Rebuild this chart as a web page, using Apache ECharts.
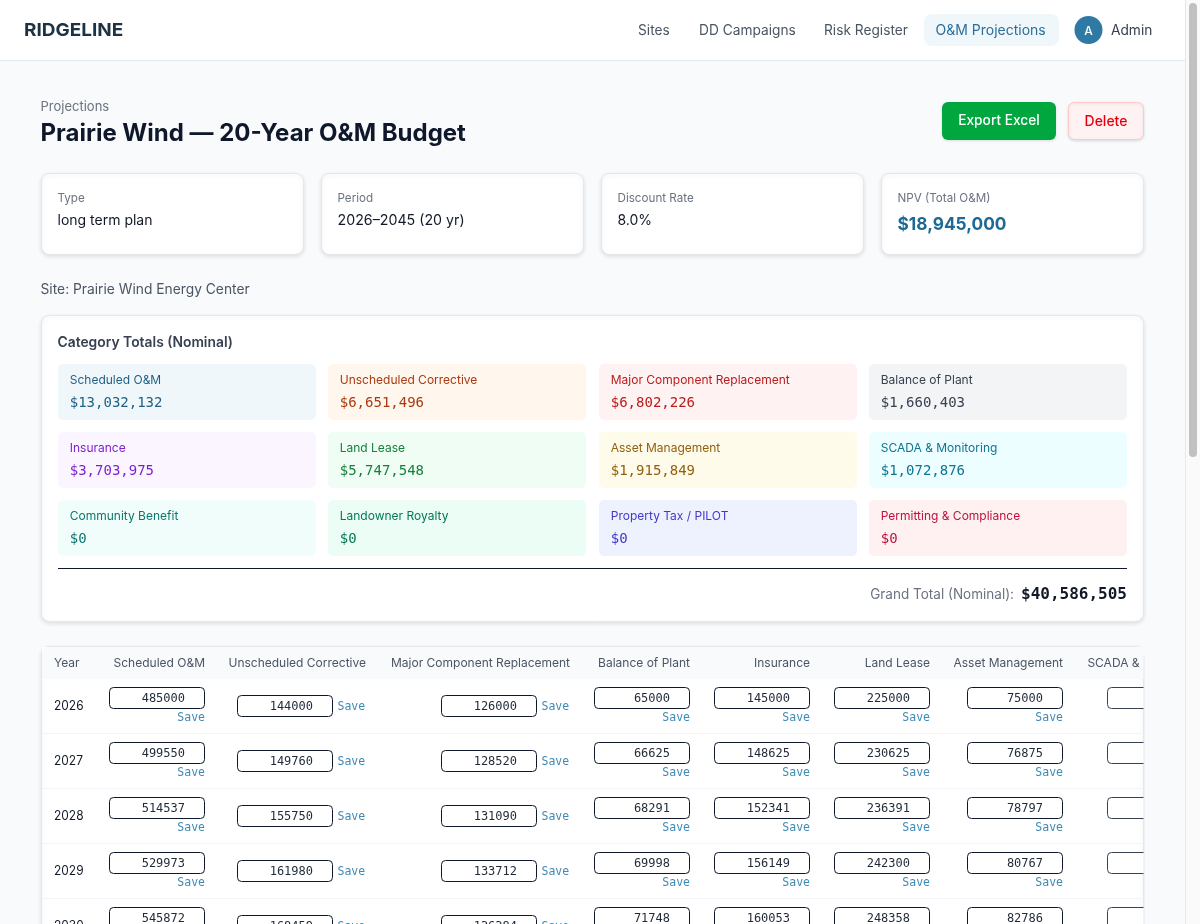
<!DOCTYPE html>
<html>
<head>
<meta charset="utf-8">
<title>Prairie Wind — 20-Year O&amp;M Budget</title>
<style>
  html, body { margin: 0; padding: 0; background: #f8fafc; overflow: hidden; }
  #page { width: 1200px; height: 924px; }
</style>
</head>
<body>
<div id="page"></div>
<script src="https://cdn.jsdelivr.net/npm/echarts@6/dist/echarts.min.js"></script>
<script>
// data
const navItems = ['Sites', 'DD Campaigns', 'Risk Register', 'O&M Projections'];
const summaryLabels = ['Type', 'Period', 'Discount Rate', 'NPV (Total O&M)'];
const summaryValues = ['long term plan', '2026–2045 (20 yr)', '8.0%', '$18,945,000'];
const categoryNames = [
  'Scheduled O&M', 'Unscheduled Corrective', 'Major Component Replacement', 'Balance of Plant',
  'Insurance', 'Land Lease', 'Asset Management', 'SCADA & Monitoring',
  'Community Benefit', 'Landowner Royalty', 'Property Tax / PILOT', 'Permitting & Compliance'
];
const categoryTotals = [
  '$13,032,132', '$6,651,496', '$6,802,226', '$1,660,403',
  '$3,703,975', '$5,747,548', '$1,915,849', '$1,072,876',
  '$0', '$0', '$0', '$0'
];
const grandTotal = '$40,586,505';
const years = [2026, 2027, 2028, 2029, 2030];
const tableHeaders = [
  'Scheduled O&M', 'Unscheduled Corrective', 'Major Component Replacement', 'Balance of Plant',
  'Insurance', 'Land Lease', 'Asset Management', 'SCADA & Monitoring'
];
const scheduledOm = [485000, 499550, 514537, 529973, 545872];
const unscheduled = [144000, 149760, 155750, 161980, 168459];
const majorComponent = [126000, 128520, 131090, 133712, 136384];
const balanceOfPlant = [65000, 66625, 68291, 69998, 71748];
const insurance = [145000, 148625, 152341, 156149, 160053];
const landLease = [225000, 230625, 236391, 242300, 248358];
const assetManagement = [75000, 76875, 78797, 80767, 82786];

// layout and styles
const SANS = 'Inter';
const MONO = '"DejaVu Sans Mono"';
const tileColors = [
  ['#f0f7fb', '#1f5f85'], ['#fff6ed', '#a93a10'], ['#fef2f2', '#b91c1c'], ['#f3f4f6', '#374151'],
  ['#faf5ff', '#7e22ce'], ['#f0fdf4', '#15803d'], ['#fffbeb', '#92600e'], ['#ecfeff', '#0e7490'],
  ['#f0fdfa', '#0f766e'], ['#ecfdf5', '#047857'], ['#eef2ff', '#4338ca'], ['#fff1f2', '#be123c']
];
const tileX = [58, 328, 599, 869];
const tileY = [364, 432, 500];
const cardX = [41, 321, 601, 881];
// left edge of the input, right edge of the header, and whether Save sits under the input
const columns = [
  { values: scheduledOm, left: 109, stacked: true, headRight: 205 },
  { values: unscheduled, left: 237, stacked: false, headRight: 366 },
  { values: majorComponent, left: 441, stacked: false, headRight: 570 },
  { values: balanceOfPlant, left: 594, stacked: true, headRight: 690 },
  { values: insurance, left: 714, stacked: true, headRight: 810 },
  { values: landLease, left: 834, stacked: true, headRight: 930 },
  { values: assetManagement, left: 967, stacked: true, headRight: 1063 },
  { values: null, left: 1107, stacked: true, headRight: 1204 }
];

const els = [];

function rect(x, y, w, h, r, fill, stroke, extra) {
  els.push(Object.assign({
    type: 'rect',
    shape: { x: x, y: y, width: w, height: h, r: r },
    style: { fill: fill, stroke: stroke || null, lineWidth: stroke ? 1 : 0 }
  }, extra || {}));
}

function text(x, y, str, size, color, opts) {
  opts = opts || {};
  els.push({
    type: 'text',
    x: x,
    y: y + 1,
    scaleX: opts.scaleX || 1,
    style: {
      text: str,
      fill: color,
      font: (opts.weight || 400) + ' ' + size + 'px ' + (opts.family || SANS),
      textAlign: opts.align || 'left',
      textVerticalAlign: 'middle'
    }
  });
}

function card(x, y, w, h) {
  rect(x + 0.5, y + 0.5, w - 1, h - 1, 8, '#ffffff', '#e5e7eb', {
    style: {
      fill: '#ffffff', stroke: '#e5e7eb', lineWidth: 1,
      shadowBlur: 4, shadowOffsetY: 1.5, shadowColor: 'rgba(15,23,42,0.11)'
    }
  });
}

// top bar
rect(0, 0, 1185, 60, 0, '#ffffff');
rect(0, 60, 1185, 1, 0, '#e2e8f0');
text(24, 30, 'RIDGELINE', 18, '#1b3344', { weight: 700, scaleX: 1.053 });
const navX = [638, 699, 824, 935.5];
rect(924, 14, 135, 32, 8, '#f0f7fb');
navItems.forEach((item, i) => {
  text(navX[i], 30, item, 14, i === 3 ? '#2b6f97' : '#4b5563', { scaleX: i === 3 ? 1 : 0.98 });
});
els.push({
  type: 'circle',
  shape: { cx: 1088.5, cy: 30, r: 14 },
  style: { fill: '#2e7aa5' }
});
text(1088.5, 30, 'A', 12, '#ffffff', { align: 'center', weight: 500 });
text(1111, 30, 'Admin', 14, '#374151', { scaleX: 0.98 });

// page heading
text(40.5, 106, 'Projections', 13, '#6b7280');
text(40.5, 133, 'Prairie Wind — 20-Year O&M Budget', 24, '#0f172a', { weight: 700 });
const buttonShadow = { shadowBlur: 3, shadowOffsetY: 1, shadowColor: 'rgba(15,23,42,0.12)' };
rect(942, 102, 114, 38, 6, '#00a63e', null, {
  style: Object.assign({ fill: '#00a63e' }, buttonShadow)
});
text(999, 119.5, 'Export Excel', 14, '#ffffff', { align: 'center', weight: 500, scaleX: 0.98 });
rect(1068.5, 102.5, 75, 37, 6, '#fef2f2', '#ffc9c9', {
  style: Object.assign({ fill: '#fef2f2', stroke: '#ffc9c9', lineWidth: 1 }, buttonShadow)
});
text(1106, 121, 'Delete', 14, '#e7000b', { align: 'center', weight: 500 });

// summary cards
summaryLabels.forEach((label, i) => {
  card(cardX[i], 173, 263, 82);
  text(cardX[i] + 16.5, 197, label, 12, '#6b7280', { scaleX: 0.97 });
  if (i === 3) {
    text(cardX[i] + 16.5, 224, summaryValues[i], 18, '#1f6a94', { weight: 700, scaleX: 0.96 });
  } else {
    text(cardX[i] + 16.5, 220, summaryValues[i], 14, '#111827', { scaleX: i === 1 ? 1.016 : 1 });
  }
});
text(40.5, 289, 'Site: Prairie Wind Energy Center', 14, '#4b5563', { scaleX: 0.986 });

// category totals
card(41, 315, 1103, 307);
text(57.5, 342, 'Category Totals (Nominal)', 14, '#374151', { weight: 600, scaleX: 0.99 });
categoryNames.forEach((name, i) => {
  const x = tileX[i % 4];
  const y = tileY[Math.floor(i / 4)];
  const c = tileColors[i];
  rect(x, y, 258, 56, 5, c[0]);
  text(x + 11.75, y + 15, name, 12, c[1]);
  text(x + 11.75, y + 38.5, categoryTotals[i], 14, c[1], { family: MONO });
});
rect(58, 568, 1069, 1, 0, '#0f172a');
text(1014, 594, 'Grand Total (Nominal):', 14, '#6b7280', { align: 'right', scaleX: 0.966 });
text(1127, 594, grandTotal, 16, '#111827', { align: 'right', family: MONO, weight: 700 });

// budget table
card(41, 646, 1103, 320);
rect(42, 647, 1102, 32, 0, '#f8fafc');
text(54, 662, 'Year', 12, '#4b5563');
tableHeaders.forEach((head, i) => {
  text(columns[i].headRight, 662, head, 12, '#4b5563', { align: 'right' });
});
years.forEach((year, r) => {
  const top = 679 + r * 55;
  text(54, top + 26, String(year), 13, '#111827', { scaleX: 0.92 });
  if (r < years.length - 1) rect(42, top + 54, 1102, 1, 0, '#f1f5f9');
  columns.forEach(col => {
    const y = col.stacked ? top + 8 : top + 16;
    rect(col.left + 0.5, y + 0.5, 95, 21, 4, '#ffffff', col.values ? '#0f172a' : '#374151');
    if (col.values) {
      text(col.left + 76, y + 11, String(col.values[r]), 12, '#1f2937', { align: 'right', family: MONO });
    }
    if (col.stacked) {
      text(col.left + 96, top + 38, 'Save', 11.5, '#3f8ab3', { align: 'right', family: MONO });
    } else {
      text(col.left + 100.5, top + 27, 'Save', 11.5, '#3f8ab3', { family: MONO });
    }
  });
});
// the table scrolls sideways, so its last column stops at the card edge
rect(1144, 640, 41, 284, 0, '#f8fafc');
rect(1143.5, 655, 1, 269, 0, '#e5e7eb');

// scrollbar
rect(1185, 0, 15, 924, 0, '#fafafa');
rect(1185, 0, 1, 924, 0, '#e8e8e8');
rect(1189, 3, 8, 454, 4, '#c1c1c1');

const chart = echarts.init(document.getElementById('page'));
chart.setOption({
  backgroundColor: '#f8fafc',
  animation: false,
  graphic: { elements: els }
});
</script>
</body>
</html>
